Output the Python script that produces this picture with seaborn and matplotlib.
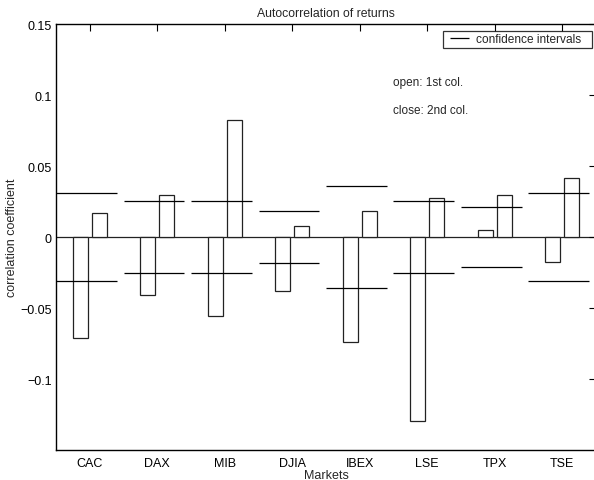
import numpy as np
import pandas as pd
import matplotlib
matplotlib.use('Agg')
import matplotlib.pyplot as plt
from matplotlib.collections import LineCollection
from matplotlib.legend_handler import HandlerLineCollection
import seaborn as sns

markets = ['CAC', 'DAX', 'MIB', 'DJIA', 'IBEX', 'LSE', 'TPX', 'TSE']
open_corr = [-0.0714, -0.0410, -0.0553, -0.0380, -0.0740, -0.1294, 0.0052, -0.0178]
close_corr = [0.0172, 0.0295, 0.0823, 0.0077, 0.0186, 0.0277, 0.0295, 0.0418]
conf_int = [0.0310, 0.0256, 0.0256, 0.0182, 0.0358, 0.0252, 0.0210, 0.0310]
yticks = [-0.1, -0.05, 0, 0.05, 0.1, 0.15]

sns.set_theme(style='white')
plt.rcParams['font.family'] = ['Liberation Sans', 'DejaVu Sans']
plt.rcParams['axes.unicode_minus'] = True

df = pd.DataFrame({
    'market': markets * 2,
    'col': ['open'] * len(markets) + ['close'] * len(markets),
    'corr': open_corr + close_corr,
})

fig = plt.figure(figsize=(5.94, 4.81), dpi=100)
ax = fig.add_axes([56 / 594, 1 - 451 / 481, 540 / 594, (451 - 25.3) / 481])

sns.barplot(data=df, x='market', y='corr', hue='col', order=markets,
            hue_order=['open', 'close'], width=0.564, gap=0.21,
            palette=['white', 'white'], saturation=1, edgecolor='#222222',
            linewidth=0.9, legend=False, errorbar=None, ax=ax)

pos = np.arange(len(markets))
ci = np.array(conf_int)
ax.hlines(ci, pos - 0.5, pos + 0.4, color='black', lw=0.9,
          label='confidence intervals')
ax.hlines(-ci, pos - 0.5, pos + 0.4, color='black', lw=0.9)
ax.axhline(0, color='#222222', lw=0.9, zorder=0.5)

ax.set_xlim(-0.5, len(markets) - 0.5)
ax.set_ylim(-0.15, 0.15)
ax.set_yticks(yticks)
ax.set_yticklabels([f'{t:g}'.replace('-', '\u2212') for t in yticks])
ax.set_xticks(pos)
ax.set_xticklabels(markets)

ax.tick_params(direction='in', top=True, right=True, length=5, width=0.8,
               labelsize=9, colors='black', pad=3)
ax.tick_params(axis='x', pad=5)
for s in ax.spines.values():
    s.set_color('black')
    s.set_linewidth(1.0)

ax.set_title('Autocorrelation of returns', fontsize=8.8, pad=6)
ax.set_xlabel('Markets', fontsize=9)
ax.set_ylabel('correlation coefficient', fontsize=9)
ax.xaxis.set_label_coords(0.5, (451 - 470.5) / 425.7)
ax.yaxis.set_label_coords((17.5 - 56) / 540, 0.5)

ax.text(4.49, 0.1095, 'open: 1st col.', fontsize=8.5, va='center', ha='left')
ax.text(4.49, 0.0898, 'close: 2nd col.', fontsize=8.5, va='center', ha='left')

x0 = (443 - 56) / 540
w = 149 / 540
ytop = (451 - 32) / 425.7
leg = ax.legend(loc='upper right', bbox_to_anchor=(x0, ytop - 0.1, w, 0.1),
                mode='expand', borderaxespad=0, fontsize=8.6, fancybox=False,
                frameon=True, handlelength=2.0, borderpad=0.2,
                handletextpad=0.55,
                handler_map={LineCollection: HandlerLineCollection(xpad=0.38)})
leg.get_frame().set_edgecolor('black')
leg.get_frame().set_linewidth(0.9)

fig.savefig('out.png', dpi=100)
